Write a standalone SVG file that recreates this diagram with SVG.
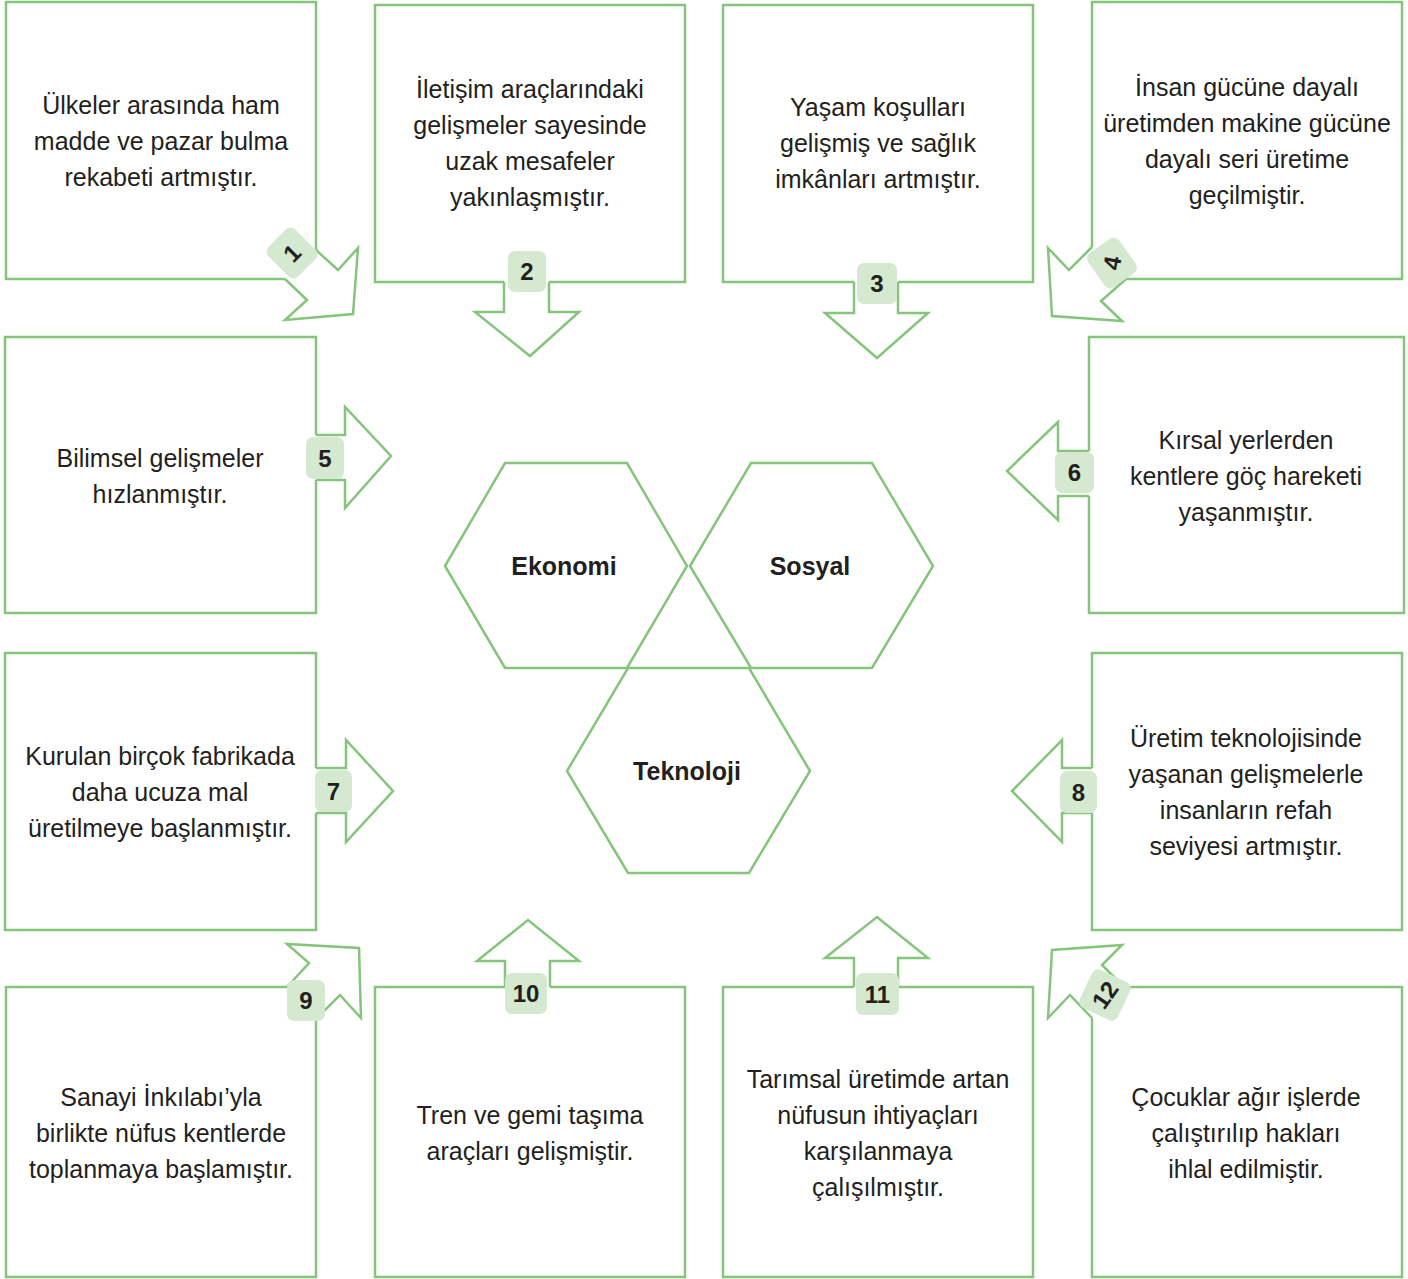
<svg xmlns="http://www.w3.org/2000/svg" width="1408" height="1279" viewBox="0 0 1408 1279">
<style>
.bx{fill:none;stroke:#84c57b;stroke-width:2.5;stroke-linejoin:miter}
.ar{fill:#fff;stroke:#84c57b;stroke-width:2.5;stroke-linejoin:miter}
.hx{fill:none;stroke:#84c57b;stroke-width:2.5}
.t{font-family:"Liberation Sans",Arial,sans-serif;font-size:25px;fill:#231f20;text-anchor:middle}
.h{font-family:"Liberation Sans",Arial,sans-serif;font-size:25px;font-weight:bold;fill:#231f20;text-anchor:middle}
.bd{fill:#d4e9cf}
.bn{font-family:"Liberation Sans",Arial,sans-serif;font-size:24px;font-weight:bold;fill:#231f20;text-anchor:middle}
</style>
<rect width="1408" height="1279" fill="#fff"/>
<g id="hexagons">
<g id="ekonomi"><polygon class="hx" points="445,566 505,463 627,463 687,566 627,668 505,668"/><text class="h" x="564" y="575">Ekonomi</text></g>
<g id="sosyal"><polygon class="hx" points="690,566 751,463 872,463 933,566 872,668 751,668"/><text class="h" x="810" y="575">Sosyal</text></g>
<g id="teknoloji"><polygon class="hx" points="567,771 628,668 749,668 810,771 749,873 628,873"/><text class="h" x="687" y="780">Teknoloji</text></g>
</g>
<g id="connectors">
<polyline class="ar" points="316,250 338,270 358,248 353,314 285,320 307,300 285,279"/>
<polyline class="ar" points="504,282 504,312 475,312 530,356 579,312 549,312 549,282"/>
<polyline class="ar" points="854,282 854,313 825,313 877,358 928,313 898,313 898,282"/>
<polyline class="ar" points="1092,247 1069,270 1048,248 1052,316 1122,321 1101,301 1126,279"/>
<polyline class="ar" points="316,435 345,435 345,407 391,456 345,508 345,480 316,480"/>
<polyline class="ar" points="1089,451 1058,451 1058,422 1007,471 1058,520 1058,496 1089,496"/>
<polyline class="ar" points="316,768 346,768 346,740 393,791 346,842 346,813 316,813"/>
<polyline class="ar" points="1092,768 1062,768 1062,740 1012,791 1062,842 1062,813 1092,813"/>
<polyline class="ar" points="287,987 309,963 287,944 359,948 361,1018 340,995 316,1019"/>
<polyline class="ar" points="505,987 505,961 477,961 528,920 579,961 550,961 550,987"/>
<polyline class="ar" points="854,987 854,958 825,958 877,917 928,958 898,958 898,987"/>
<polyline class="ar" points="1092,1018 1070,995 1048,1018 1052,950 1122,945 1102,965 1124,987"/>
</g>
<g id="n1"><path class="bx" d="M285,279 H6 V2 H316 V250"/>
<text class="t" x="161" y="114">Ülkeler arasında ham</text><text class="t" x="161" y="150">madde ve pazar bulma</text><text class="t" x="161" y="186">rekabeti artmıştır.</text>
<g transform="translate(292,253) rotate(-45)"><rect class="bd" x="-19" y="-21" width="38" height="42" rx="7"/><text class="bn" y="8.5">1</text></g></g>
<g id="n2"><path class="bx" d="M504,282 H375 V5 H685 V282 H549"/>
<text class="t" x="530" y="98">İletişim araçlarındaki</text><text class="t" x="530" y="134">gelişmeler sayesinde</text><text class="t" x="530" y="170">uzak mesafeler</text><text class="t" x="530" y="206">yakınlaşmıştır.</text>
<g transform="translate(527,271.5)"><rect class="bd" x="-19" y="-20.5" width="38" height="41" rx="7"/><text class="bn" y="8.5">2</text></g></g>
<g id="n3"><path class="bx" d="M854,282 H723 V5 H1033 V282 H898"/>
<text class="t" x="878" y="116">Yaşam koşulları</text><text class="t" x="878" y="152">gelişmiş ve sağlık</text><text class="t" x="878" y="188">imkânları artmıştır.</text>
<g transform="translate(877,283.5)"><rect class="bd" x="-20" y="-20.5" width="40" height="41" rx="7"/><text class="bn" y="8.5">3</text></g></g>
<g id="n4"><path class="bx" d="M1092,247 V2 H1402 V279 H1126"/>
<text class="t" x="1247" y="96">İnsan gücüne dayalı</text><text class="t" x="1247" y="132">üretimden makine gücüne</text><text class="t" x="1247" y="168">dayalı seri üretime</text><text class="t" x="1247" y="204">geçilmiştir.</text>
<g transform="translate(1112,263)"><rect class="bd" x="-19" y="-21" width="38" height="42" rx="7" transform="rotate(-35)"/><text class="bn" y="8.5" transform="rotate(-80)">4</text></g></g>
<g id="n5"><path class="bx" d="M316,435 V337 H5 V613 H316 V480"/>
<text class="t" x="160" y="467">Bilimsel gelişmeler</text><text class="t" x="160" y="503">hızlanmıştır.</text>
<g transform="translate(325,458)"><rect class="bd" x="-19" y="-21" width="38" height="42" rx="7"/><text class="bn" y="8.5">5</text></g></g>
<g id="n6"><path class="bx" d="M1089,451 V337 H1404 V613 H1089 V496"/>
<text class="t" x="1246" y="449">Kırsal yerlerden</text><text class="t" x="1246" y="485">kentlere göç hareketi</text><text class="t" x="1246" y="521">yaşanmıştır.</text>
<g transform="translate(1074.5,472.5)"><rect class="bd" x="-19.5" y="-20.5" width="39" height="41" rx="7"/><text class="bn" y="8.5">6</text></g></g>
<g id="n7"><path class="bx" d="M316,768 V653 H5 V930 H316 V813"/>
<text class="t" x="160" y="765">Kurulan birçok fabrikada</text><text class="t" x="160" y="801">daha ucuza mal</text><text class="t" x="160" y="837">üretilmeye başlanmıştır.</text>
<g transform="translate(333.5,791)"><rect class="bd" x="-18.5" y="-21" width="37" height="42" rx="7"/><text class="bn" y="8.5">7</text></g></g>
<g id="n8"><path class="bx" d="M1092,768 V653 H1402 V930 H1092 V813"/>
<text class="t" x="1246" y="747">Üretim teknolojisinde</text><text class="t" x="1246" y="783">yaşanan gelişmelerle</text><text class="t" x="1246" y="819">insanların refah</text><text class="t" x="1246" y="855">seviyesi artmıştır.</text>
<g transform="translate(1078.5,792)"><rect class="bd" x="-18.5" y="-21" width="37" height="42" rx="7"/><text class="bn" y="8.5">8</text></g></g>
<g id="n9"><path class="bx" d="M287,987 H6 V1277 H316 V1019"/>
<text class="t" x="161" y="1106">Sanayi İnkılabı’yla</text><text class="t" x="161" y="1142">birlikte nüfus kentlerde</text><text class="t" x="161" y="1178">toplanmaya başlamıştır.</text>
<g transform="translate(306,1000.5)"><rect class="bd" x="-19" y="-20.5" width="38" height="41" rx="7"/><text class="bn" y="8.5">9</text></g></g>
<g id="n10"><path class="bx" d="M505,987 H375 V1277 H685 V987 H550"/>
<text class="t" x="530" y="1124">Tren ve gemi taşıma</text><text class="t" x="530" y="1160">araçları gelişmiştir.</text>
<g transform="translate(526,993.5)"><rect class="bd" x="-21" y="-20.5" width="42" height="41" rx="7"/><text class="bn" y="8.5">10</text></g></g>
<g id="n11"><path class="bx" d="M854,987 H723 V1277 H1033 V987 H898"/>
<text class="t" x="878" y="1088">Tarımsal üretimde artan</text><text class="t" x="878" y="1124">nüfusun ihtiyaçları</text><text class="t" x="878" y="1160">karşılanmaya</text><text class="t" x="878" y="1196">çalışılmıştır.</text>
<g transform="translate(877.5,994)"><rect class="bd" x="-21.5" y="-21" width="43" height="42" rx="7"/><text class="bn" y="8.5">11</text></g></g>
<g id="n12"><path class="bx" d="M1092,1018 V1277 H1402 V987 H1124"/>
<text class="t" x="1246" y="1106">Çocuklar ağır işlerde</text><text class="t" x="1246" y="1142">çalıştırılıp hakları</text><text class="t" x="1246" y="1178">ihlal edilmiştir.</text>
<g transform="translate(1105,995)"><rect class="bd" x="-21" y="-21" width="42" height="42" rx="7" transform="rotate(25)"/><text class="bn" y="8.5" transform="rotate(-55)">12</text></g></g>
</svg>
